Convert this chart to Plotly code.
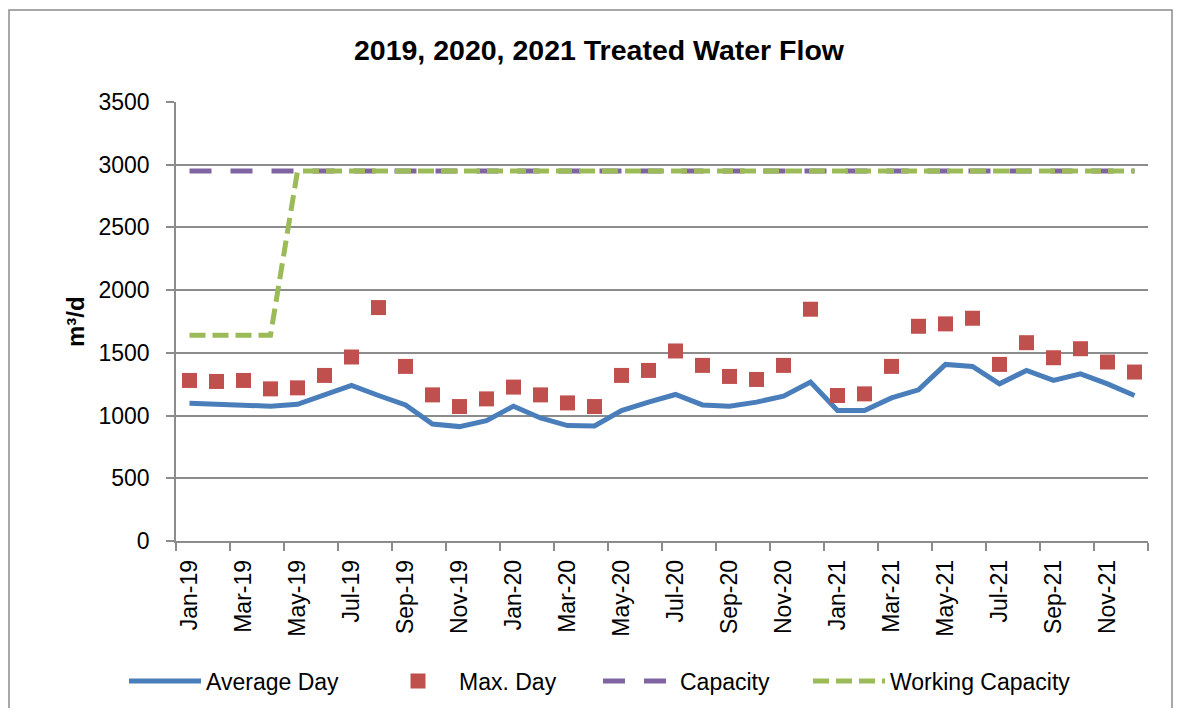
import plotly.graph_objects as go

months = ["Jan-19","Feb-19","Mar-19","Apr-19","May-19","Jun-19","Jul-19","Aug-19","Sep-19","Oct-19","Nov-19","Dec-19",
          "Jan-20","Feb-20","Mar-20","Apr-20","May-20","Jun-20","Jul-20","Aug-20","Sep-20","Oct-20","Nov-20","Dec-20",
          "Jan-21","Feb-21","Mar-21","Apr-21","May-21","Jun-21","Jul-21","Aug-21","Sep-21","Oct-21","Nov-21","Dec-21"]

average_day = [1098, 1093, 1088, 1075, 1090, 1160, 1240, 1160, 1085, 933, 912, 960,
               1075, 981, 920, 917, 1040, 1107, 1168, 1085, 1075, 1107, 1155, 1267,
               1040, 1040, 1141, 1205, 1408, 1392, 1253, 1360, 1280, 1333, 1253, 1160]

max_day = [1280, 1272, 1280, 1213, 1221, 1320, 1467, 1861, 1392, 1165, 1072, 1133,
           1227, 1165, 1101, 1072, 1320, 1360, 1515, 1400, 1312, 1288, 1400, 1848,
           1160, 1173, 1392, 1712, 1731, 1776, 1408, 1581, 1461, 1533, 1427, 1347]

capacity = [2950] * 36

working_capacity = [1640, 1640, 1640, 1640] + [2950] * 32

x_idx = list(range(len(months)))
tick_idx = x_idx[::2]
tick_text = months[::2]

FONT = "Liberation Sans, Arial, sans-serif"
GRID = "#8c8c8c"

# page offset (browser body margin)
OFF = 8
W, H = 1166, 700
L, T = 176 - OFF, 102 - OFF
R = W - (1148 - OFF)
B = H - (541 - OFF)
pw, ph = W - L - R, H - T - B


def px(xpage):
    return (xpage - OFF - L) / pw


def py(ypage):
    return (H - B - (ypage - OFF)) / ph


def cx(xpage):
    return (xpage - OFF) / W


def cy(ypage):
    return 1 - (ypage - OFF) / H


fig = go.Figure()
fig.add_trace(go.Scatter(x=x_idx, y=average_day, mode="lines", name="Average Day",
                         line=dict(color="#4A7EBB", width=5), legend="legend"))
fig.add_trace(go.Scatter(x=x_idx, y=max_day, mode="markers", name="Max. Day",
                         marker=dict(symbol="square", size=15, color="#C0504D",
                                     line=dict(width=0)), legend="legend2"))
fig.add_trace(go.Scatter(x=x_idx, y=capacity, mode="lines", name="Capacity",
                         line=dict(color="#8064A2", width=5, dash="22px,19px"), legend="legend3"))
fig.add_trace(go.Scatter(x=x_idx, y=working_capacity, mode="lines", name="Working Capacity",
                         line=dict(color="#9BBB59", width=5, dash="16px,7px"), legend="legend4"))

leg_common = dict(orientation="h", yanchor="middle", y=cy(681), yref="container",
                  xref="container", xanchor="left",
                  font=dict(size=23, family=FONT, color="black"), itemwidth=72,
                  bgcolor="rgba(0,0,0,0)", borderwidth=0)

fig.update_layout(
    width=W, height=H,
    margin=dict(l=L, r=R, t=T, b=B, pad=0, autoexpand=False),
    paper_bgcolor="white", plot_bgcolor="white",
    font=dict(family=FONT, size=23, color="black"),
    title=dict(text="<b>2019, 2020, 2021 Treated Water Flow</b>", x=cx(599), xanchor="center",
               y=cy(50), yanchor="middle", font=dict(size=28.5, family=FONT, color="black")),
    showlegend=True,
    legend=dict(leg_common, x=cx(124)),
    legend2=dict(leg_common, x=cx(377)),
    legend3=dict(leg_common, x=cx(598)),
    legend4=dict(leg_common, x=cx(808)),
    xaxis=dict(range=[-0.5, 35.5], tickmode="array", tickvals=tick_idx, ticktext=tick_text,
               tickangle=-90, ticks="", showgrid=False, zeroline=False,
               showline=True, linecolor=GRID, linewidth=1.5,
               tickfont=dict(size=23, family=FONT), ticklabelstandoff=8,
               minor=dict(tickmode="linear", tick0=-0.5, dtick=2, ticks="outside",
                          ticklen=8, tickcolor=GRID, tickwidth=1.5, showgrid=False)),
    yaxis=dict(range=[0, 3500], dtick=500, tick0=0, showgrid=True, gridcolor=GRID, gridwidth=1.5,
               ticks="outside", ticklen=8, tickcolor=GRID, tickwidth=1.5,
               showline=True, linecolor=GRID, linewidth=1.5, zeroline=False,
               tickfont=dict(size=23, family=FONT), ticklabelstandoff=12),
    annotations=[dict(text="<b>m³/d</b>", x=px(75), y=py(322), xref="paper", yref="paper",
                      xanchor="center", yanchor="middle",
                      textangle=-90, showarrow=False, font=dict(size=24, family=FONT))],
    shapes=[dict(type="rect", xref="paper", yref="paper", x0=px(9), x1=px(1172),
                 y0=py(740), y1=py(10), line=dict(color="#8c8c8c", width=1.5),
                 fillcolor="rgba(0,0,0,0)", layer="below")],
)

fig.write_html("out.html")
